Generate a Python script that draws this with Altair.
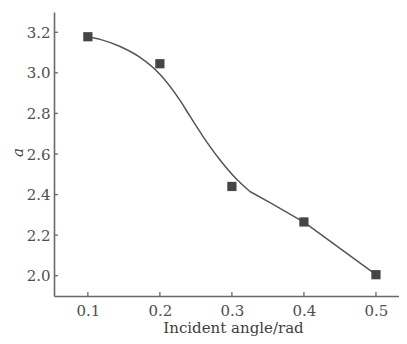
import altair as alt
import pandas as pd

# measured points
px = [0.1, 0.2, 0.3, 0.4, 0.5]
py = [3.178, 3.045, 2.44, 2.265, 2.005]

# fitted curve: smooth part, then the straight part after the kink
cx1 = [0.1, 0.117, 0.144, 0.172, 0.2, 0.228, 0.242, 0.26, 0.283, 0.307, 0.325]
cy1 = [3.178, 3.165, 3.131, 3.077, 2.993, 2.864, 2.785, 2.686, 2.573, 2.474, 2.415]
cx2 = [0.325, 0.353, 0.401, 0.5]
cy2 = [2.415, 2.36, 2.262, 2.005]

xticks = [0.1, 0.2, 0.3, 0.4, 0.5]
yticks = [2.0, 2.2, 2.4, 2.6, 2.8, 3.0, 3.2]

W, H = 345, 284
xdom = [0.053, 0.532]
ydom = [1.9, 3.3]
FONT = "DejaVu Serif"
AX = "#6a6a6a"

xs = alt.Scale(domain=xdom, nice=False, zero=False)
ys = alt.Scale(domain=ydom, nice=False, zero=False)

xaxis = alt.Axis(values=xticks, format=".1f", tickSize=0, labelPadding=7,
                 title="Incident angle/rad", titleBaseline="alphabetic", titleY=36,
                 titleX=179, titleAlign="center", titleFontSize=15, grid=False)
yaxis = alt.Axis(values=yticks, format=".1f", tickSize=0, labelPadding=4,
                 title="a", titleFontStyle="italic", titleX=-37, titleY=140,
                 titleAngle=270, titleAlign="center", titleBaseline="middle",
                 titleFontSize=15, grid=False)

pts = pd.DataFrame({"x": px, "y": py})
crv1 = pd.DataFrame({"x": cx1, "y": cy1})
crv2 = pd.DataFrame({"x": cx2, "y": cy2})

line1 = alt.Chart(crv1).mark_line(color="#555555", strokeWidth=1.5, interpolate="monotone").encode(
    x=alt.X("x:Q", scale=xs, axis=xaxis),
    y=alt.Y("y:Q", scale=ys, axis=yaxis),
)
line2 = alt.Chart(crv2).mark_line(color="#555555", strokeWidth=1.5, strokeJoin="round").encode(
    x=alt.X("x:Q", scale=xs),
    y=alt.Y("y:Q", scale=ys),
)
marks = alt.Chart(pts).mark_square(size=85, color="#454545", opacity=1).encode(
    x=alt.X("x:Q", scale=xs),
    y=alt.Y("y:Q", scale=ys),
)
xt = alt.Chart(pd.DataFrame({"x": xticks})).mark_rule(color=AX, strokeWidth=1.3).encode(
    x=alt.X("x:Q", scale=xs),
    y=alt.value(H), y2=alt.value(H - 4),
)
yt = alt.Chart(pd.DataFrame({"y": yticks})).mark_rule(color=AX, strokeWidth=1.3).encode(
    y=alt.Y("y:Q", scale=ys),
    x=alt.value(0), x2=alt.value(4),
)

chart = alt.layer(line1, line2, xt, yt, marks).properties(
    width=W, height=H,
    autosize=alt.AutoSizeParams(type="none"),
    padding={"left": 46, "top": 4, "right": 0, "bottom": 40},
).configure_view(stroke=None).configure_axis(
    domainColor=AX, domainWidth=1.6,
    labelFont=FONT, labelFontSize=15, labelColor="#505050",
    titleFont=FONT, titleColor="#404040", titleFontWeight="normal",
)

chart.save("out.html", embed_options={"renderer": "svg", "actions": False})
